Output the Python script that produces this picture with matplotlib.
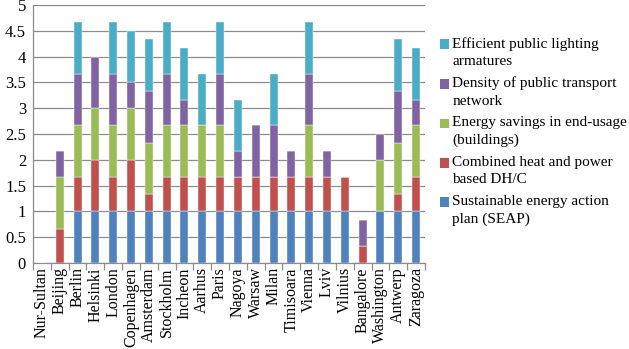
import numpy as np
import matplotlib
matplotlib.use('Agg')
import matplotlib.pyplot as plt
from matplotlib.patches import Rectangle
from matplotlib.container import BarContainer
from matplotlib.legend_handler import HandlerPatch
from matplotlib.ticker import FixedLocator, NullFormatter

plt.rcParams['font.family'] = ['Liberation Serif', 'DejaVu Serif']

cities = ['Nur-Sultan', 'Beijing', 'Berlin', 'Helsinki', 'London', 'Copenhagen',
          'Amsterdam', 'Stockholm', 'Incheon', 'Aarhus', 'Paris', 'Nagoya', 'Warsaw',
          'Milan', 'Timisoara', 'Vienna', 'Lviv', 'Vilnius', 'Bangalore', 'Washington',
          'Antwerp', 'Zaragoza']

t = 1 / 3
seap = [0, 0, 1, 1, 1, 1, 1, 1, 1, 1, 1, 1, 1, 1, 1, 1, 1, 1, 0, 1, 1, 1]
chp = [0, 2*t, 2*t, 1, 2*t, 1, t, 2*t, 2*t, 2*t, 2*t, 2*t, 2*t, 2*t, 2*t, 2*t, 2*t, 2*t, t, 0, t, 2*t]
energy = [0, 1, 1, 1, 1, 1, 1, 1, 1, 1, 1, 0, 0, 0, 0, 1, 0, 0, 0, 1, 1, 1]
transport = [0, 0.5, 1, 1, 1, 0.5, 1, 1, 0.5, 0, 1, 0.5, 1, 1, 0.5, 1, 0.5, 0, 0.5, 0.5, 1, 0.5]
lighting = [0, 0, 1, 0, 1, 1, 1, 1, 1, 1, 1, 1, 0, 1, 0, 1, 0, 0, 0, 0, 1, 1]

series = [
    ('Sustainable energy action\nplan (SEAP)', seap, '#4F81BD'),
    ('Combined heat and power\nbased DH/C', chp, '#C0504D'),
    ('Energy savings in end-usage\n(buildings)', energy, '#9BBB59'),
    ('Density of public transport\nnetwork', transport, '#8064A2'),
    ('Efficient public lighting\narmatures', lighting, '#4BACC6'),
]

fig = plt.figure(figsize=(6.29, 3.49), dpi=100)
ax = fig.add_axes([33 / 629, 86 / 349, 392 / 629, 258 / 349])

x = np.arange(len(cities))
bottom = np.zeros(len(cities))
for label, vals, color in series:
    vals = np.array(vals, dtype=float)
    ax.bar(x, vals, 0.45, bottom=bottom, color=color, label=label,
           edgecolor='white', linewidth=0.3, zorder=3)
    bottom += vals

ax.set_xlim(-0.5, len(cities) - 0.5)
ax.set_ylim(0, 5)
ax.set_yticks(np.arange(0, 5.01, 0.5))
ax.set_yticklabels(['0', '0.5', '1', '1.5', '2', '2.5', '3', '3.5', '4', '4.5', '5'])
ax.yaxis.grid(True, color='#8C8C8C', linewidth=0.9, zorder=0)
ax.tick_params(axis='y', length=0, labelsize=12, pad=5)

ax.set_xticks(x)
ax.set_xticklabels(cities, rotation=90, fontsize=11.5)
ax.tick_params(axis='x', which='major', length=0, pad=3)
ax.xaxis.set_minor_locator(FixedLocator(np.arange(-0.5, len(cities), 1)))
ax.xaxis.set_minor_formatter(NullFormatter())
ax.tick_params(axis='x', which='minor', length=5, color='#8C8C8C', width=0.9)

for s in ['top', 'right']:
    ax.spines[s].set_visible(False)
for s in ['left', 'bottom']:
    ax.spines[s].set_color('#8C8C8C')
    ax.spines[s].set_linewidth(0.9)


# square marker next to the first line of each two-line label
def top_square(legend, orig_handle, xdescent, ydescent, width, height, fontsize):
    return Rectangle((-xdescent, -ydescent + 5.8), width, height)


def copy_style(legend_handle, orig_handle):
    legend_handle.update_from(orig_handle.patches[0])
    legend_handle.set_linewidth(0)


handles, labels = ax.get_legend_handles_labels()
leg = fig.legend(handles[::-1], labels[::-1], loc='upper left',
                 bbox_to_anchor=(440 / 629, 1 - 37 / 349), frameon=False,
                 fontsize=11, handlelength=0.6, handleheight=0.6,
                 handletextpad=0.2, labelspacing=0.55, borderaxespad=0,
                 borderpad=0,
                 handler_map={BarContainer: HandlerPatch(patch_func=top_square,
                                                         update_func=copy_style)})
for txt in leg.get_texts():
    txt.set_linespacing(1.45)

fig.savefig('out.png', dpi=100)
